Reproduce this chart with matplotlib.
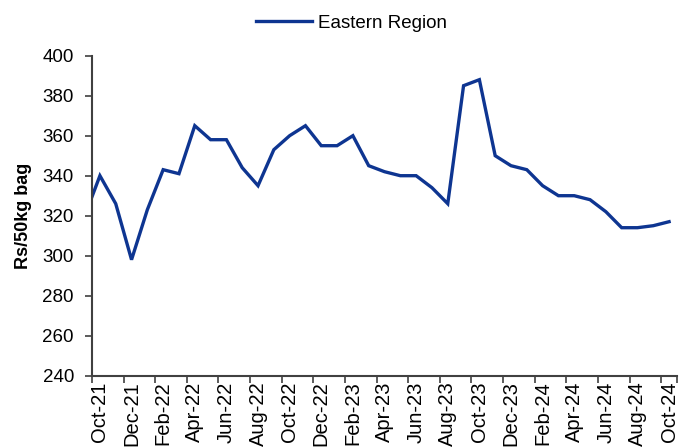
import matplotlib.pyplot as plt
from matplotlib.ticker import FixedLocator

plt.rcParams['font.family'] = ['Liberation Sans', 'DejaVu Sans']

# monthly prices, Sep-21 .. Oct-24 (Sep-21 only shows as the clipped start of the line)
months = ['Sep-21', 'Oct-21', 'Nov-21', 'Dec-21', 'Jan-22', 'Feb-22', 'Mar-22', 'Apr-22',
          'May-22', 'Jun-22', 'Jul-22', 'Aug-22', 'Sep-22', 'Oct-22', 'Nov-22', 'Dec-22',
          'Jan-23', 'Feb-23', 'Mar-23', 'Apr-23', 'May-23', 'Jun-23', 'Jul-23', 'Aug-23',
          'Sep-23', 'Oct-23', 'Nov-23', 'Dec-23', 'Jan-24', 'Feb-24', 'Mar-24', 'Apr-24',
          'May-24', 'Jun-24', 'Jul-24', 'Aug-24', 'Sep-24', 'Oct-24']
eastern = [319, 340, 326, 298, 323, 343, 341, 365,
           358, 358, 344, 335, 353, 360, 365, 355,
           355, 360, 345, 342, 340, 340, 334, 326,
           385, 388, 350, 345, 343, 335, 330, 330,
           328, 322, 314, 314, 315, 317]
yticks = [240, 260, 280, 300, 320, 340, 360, 380, 400]

blue = '#0e3591'
axcol = '#404040'
fs = 13.5

x = list(range(-1, len(months) - 1))  # Oct-21 -> 0

fig = plt.figure(figsize=(6.96, 4.47), dpi=100)
ax = fig.add_axes([0.1322, 0.1595, 0.8405, 0.7159])

ax.plot(x, eastern, color=blue, lw=2.4, label='Eastern Region', solid_joinstyle='miter')

ax.set_xlim(-0.5, 36.5)
ax.set_ylim(240, 400)
ax.set_yticks(yticks)

# tick marks between months every 2 months, labels centred on the months
ax.xaxis.set_major_locator(FixedLocator([i - 0.5 for i in range(0, 37, 2)] + [36.5]))
ax.xaxis.set_minor_locator(FixedLocator(list(range(0, 37, 2))))
ax.set_xticklabels([], minor=False)
ax.set_xticklabels([months[i + 1] for i in range(0, 37, 2)], minor=True, rotation=90)
ax.tick_params(axis='x', which='major', length=5, width=1.2, color=axcol, direction='out')
ax.tick_params(axis='x', which='minor', length=0, pad=4, labelsize=14.5)
ax.tick_params(axis='y', length=5, width=1.2, color=axcol, labelsize=fs, pad=8)

for s in ['top', 'right']:
    ax.spines[s].set_visible(False)
for s in ['left', 'bottom']:
    ax.spines[s].set_color(axcol)
    ax.spines[s].set_linewidth(1.5)

ax.set_ylabel('Rs/50kg bag', fontsize=13, fontweight='bold')
ax.yaxis.set_label_coords(-0.103, 0.5)

fig.legend(loc='upper center', bbox_to_anchor=(0.505, 1.005), frameon=False,
           fontsize=fs, handlelength=3.0, handletextpad=0.3)

fig.savefig('out.png', dpi=100)
